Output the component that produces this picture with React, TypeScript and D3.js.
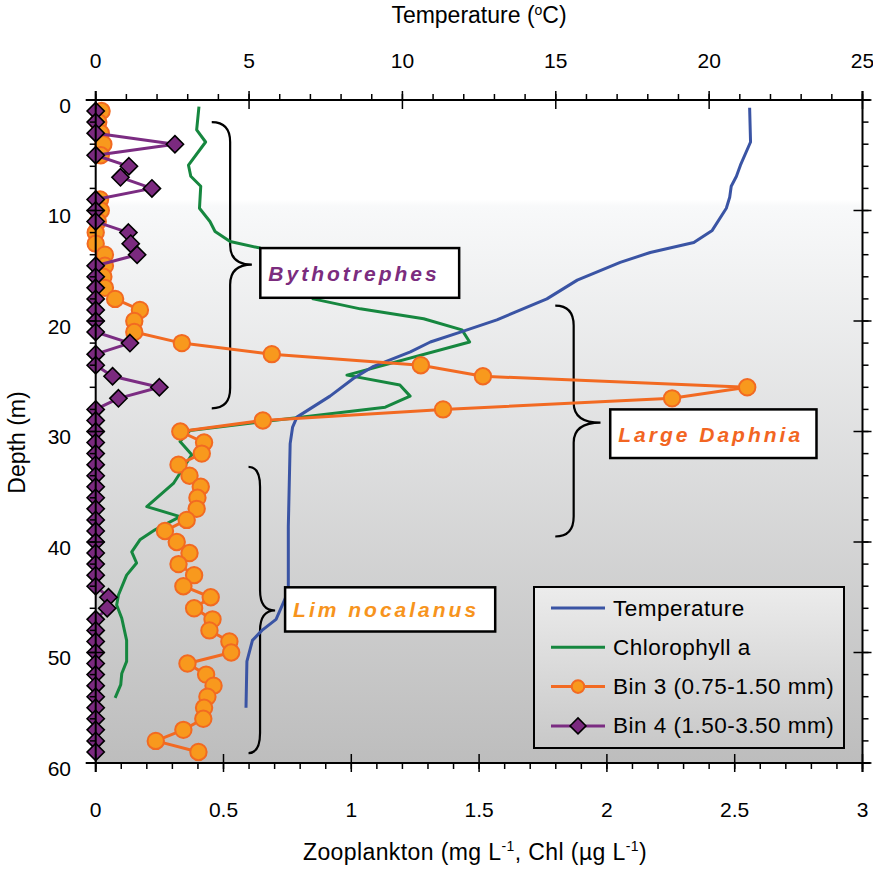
import React from 'react';
import * as d3 from 'd3';

const W = 873;
const H = 871;
const PL = 95.7, PR = 862.5, PT = 100, PB = 763;

// depths (m) of zooplankton samples
const depth = [1,2,3,4,5,6,7,8,9,10,11,12,13,14,15,16,17,18,19,20,21,22,23,24,25,26,27,28,29,30,31,32,33,34,35,36,37,38,39,40,41,42,43,44,45,46,47,48,49,50,51,52,53,54,55,56,57,58,59];
// Bin 3 (0.75-1.50 mm), mg/L
const bin3: (number | null)[] = [0.023,0.01,0.02,0.03,0.02,null,null,null,0.017,0.02,0.008,0.0,0.0,0.036,0.036,0.03,0.036,0.076,0.173,0.151,0.151,0.337,0.689,1.272,1.515,2.549,2.255,1.359,0.654,0.331,0.424,0.415,0.324,0.367,0.411,0.398,0.395,0.356,0.271,0.317,0.367,0.324,0.385,0.343,0.45,0.385,0.457,0.445,0.523,0.53,0.359,0.432,0.461,0.437,0.424,0.421,0.343,0.235,0.402];
// Bin 4 (1.50-3.50 mm), mg/L
const bin4 = [0,0,0,0.31,0,0.13,0.097,0.22,0,0,0,0.128,0.137,0.162,0,0,0,0,0,0,0,0.134,0,0,0.066,0.249,0.089,0,0,0,0,0,0,0,0,0,0,0,0,0,0,0,0,0,0.05,0.045,0,0,0,0,0,0,0,0,0,0,0,0,0];

// Temperature profile (top axis, deg C)
const tempDepth = [0.7,3.8,5.9,6.9,7.8,8.8,9.8,11.8,12.9,13.8,14.7,16.3,18.0,19.9,21.0,21.9,22.8,24.1,25.2,26.8,28.7,29.6,31.1,38.6,44.0,45.1,47.0,48.0,48.9,50.8,55.0];
const tempC = [21.32,21.35,21.02,20.89,20.72,20.67,20.56,20.1,19.5,18.08,17.1,15.7,14.71,13.08,11.89,10.91,10.26,9.06,8.4,7.64,6.56,6.42,6.34,6.28,6.28,6.18,5.88,5.42,5.11,4.93,4.9];

// Chlorophyll a (bottom axis, ug/L)
const chlDepth = [0.6,2.7,3.8,5.9,6.9,7.8,9.8,11.0,11.9,12.8,13.4,18.0,18.9,19.8,20.8,21.9,24.9,25.8,26.8,27.8,29.9,30.9,32.1,34.7,36.8,37.7,38.9,39.8,40.9,41.9,43.0,44.8,45.7,46.9,48.9,50.8,51.9,52.9,54.1];
const chlVal = [0.404,0.395,0.43,0.363,0.372,0.411,0.406,0.447,0.467,0.526,0.643,0.851,1.035,1.283,1.433,1.463,0.983,1.19,1.23,1.133,0.369,0.33,0.376,0.304,0.2,0.33,0.232,0.173,0.141,0.16,0.121,0.089,0.082,0.102,0.121,0.121,0.102,0.098,0.076];

const zooTicks = [0, 0.5, 1, 1.5, 2, 2.5, 3];
const zooTickLabels = ['0', '0.5', '1', '1.5', '2', '2.5', '3'];
const tempTicks = [0, 5, 10, 15, 20, 25];
const depthTicks = [0, 10, 20, 30, 40, 50, 60];

// annotations: depth range, brace x (zooplankton units), label box
const braces = [
  { d0: 2.0, d1: 27.9, dc: 14.9, tip: 0.454, stem: 0.526, point: 0.611 },
  { d0: 18.6, d1: 39.5, dc: 29.2, tip: 1.798, stem: 1.870, point: 1.975 },
  { d0: 33.2, d1: 59.1, dc: 46.2, tip: 0.598, stem: 0.643, point: 0.702 },
];
const labels = [
  { text: 'Bythotrephes', color: '#7b2c7e', x0: 0.644, x1: 1.422, d0: 13.4, d1: 17.9 },
  { text: 'Large Daphnia', color: '#f26522', x0: 2.013, x1: 2.82, d0: 28.0, d1: 32.4 },
  { text: 'Lim nocalanus', color: '#f7941d', x0: 0.741, x1: 1.563, d0: 44.1, d1: 48.1 },
];

const legendItems = ['Temperature', 'Chlorophyll a', 'Bin 3 (0.75-1.50 mm)', 'Bin 4 (1.50-3.50 mm)'];

const FONT = 'Liberation Sans, Arial, Helvetica, sans-serif';
const BLUE = '#3a54a4';
const GREEN = '#16873f';
const ORANGE = '#f26a22';
const ORANGE_FILL = '#f8991d';
const PURPLE = '#7b2c82';

const diamond = (s: number) => `M0,${-s}L${s},0L0,${s}L${-s},0Z`;

export default function App() {
  const x = d3.scaleLinear().domain([0, 3]).range([PL, PR]);
  const xt = d3.scaleLinear().domain([0, 25]).range([PL, PR]);
  const y = d3.scaleLinear().domain([0, 60]).range([PT, PB]);

  const tempLine = d3.line<number>().x((_, i) => xt(tempC[i])).y((d) => y(d))(tempDepth) || '';
  const chlLine = d3.line<number>().x((_, i) => x(chlVal[i])).y((d) => y(d))(chlDepth) || '';
  const b3Line = d3
    .line<number>()
    .defined((_, i) => bin3[i] !== null)
    .x((_, i) => x(bin3[i] as number))
    .y((d) => y(d))(depth) || '';
  const b4Line = d3.line<number>().x((_, i) => x(bin4[i])).y((d) => y(d))(depth) || '';

  const bracePath = (b: typeof braces[0]) => {
    const tx = x(b.tip), sx = x(b.stem), px = x(b.point);
    const y0 = y(b.d0), y1 = y(b.d1), yc = y(b.dc);
    const r = 20;
    return `M${tx},${y0} Q${sx},${y0} ${sx},${y0 + r} L${sx},${yc - r} Q${sx},${yc} ${px},${yc} Q${sx},${yc} ${sx},${yc + r} L${sx},${y1 - r} Q${sx},${y1} ${tx},${y1}`;
  };

  const minorZoo = d3.range(0, 3.0001, 0.1);
  const minorTemp = d3.range(0, 25.0001, 1);
  const minorDepth = d3.range(0, 60.0001, 2);

  const legX = 534, legY = 587, legW = 310, legH = 161;
  const legRowY = (i: number) => 608 + i * 39.3;

  return (
    <svg width={W} height={H} style={{ position: 'absolute', left: 0, top: 0, display: 'block' }} fontFamily={FONT}>
      <defs>
        <linearGradient id="bg" x1="0" y1="0" x2="0" y2="1">
          <stop offset="0" stopColor="#ffffff" />
          <stop offset="0.15" stopColor="#ffffff" />
          <stop offset="0.16" stopColor="#f8f9fa" />
          <stop offset="1" stopColor="#bdbdbd" />
        </linearGradient>
        <linearGradient id="lg" x1="0" y1="0" x2="0" y2="1">
          <stop offset="0" stopColor="#ececec" />
          <stop offset="1" stopColor="#c8c8c8" />
        </linearGradient>
      </defs>
      <rect x={0} y={0} width={W} height={H} fill="#ffffff" />
      <rect x={PL} y={PT} width={PR - PL} height={PB - PT} fill="url(#bg)" />

      {/* braces */}
      {braces.map((b, i) => (
        <path key={i} d={bracePath(b)} fill="none" stroke="#000" strokeWidth={2.2} />
      ))}

      {/* series */}
      <path d={chlLine} fill="none" stroke={GREEN} strokeWidth={3} strokeLinejoin="round" />
      <path d={tempLine} fill="none" stroke={BLUE} strokeWidth={3} strokeLinejoin="round" />
      <path d={b3Line} fill="none" stroke={ORANGE} strokeWidth={3} strokeLinejoin="round" />
      {depth.map((d, i) =>
        bin3[i] === null ? null : (
          <circle key={'c' + i} cx={x(bin3[i] as number)} cy={y(d)} r={8.2} fill={ORANGE_FILL} stroke={ORANGE} strokeWidth={2} />
        )
      )}
      <path d={b4Line} fill="none" stroke={PURPLE} strokeWidth={3} strokeLinejoin="round" />
      {depth.map((d, i) => (
        <path key={'d' + i} d={diamond(8.6)} transform={`translate(${x(bin4[i])},${y(d)})`} fill="#7b2a7f" stroke="#000" strokeWidth={1.6} />
      ))}

      {/* label boxes */}
      {labels.map((l, i) => (
        <g key={i}>
          <rect x={x(l.x0)} y={y(l.d0)} width={x(l.x1) - x(l.x0)} height={y(l.d1) - y(l.d0)} fill="#fff" stroke="#000" strokeWidth={2.5} />
          <text x={x(l.x0) + 8} y={(y(l.d0) + y(l.d1)) / 2 + 8} fill={l.color} fontSize={21} fontWeight="bold" fontStyle="italic" letterSpacing={3}>
            {l.text}
          </text>
        </g>
      ))}

      {/* axes lines */}
      <g stroke="#000" strokeWidth={2}>
        <line x1={PL - 10} x2={PR + 8} y1={PT} y2={PT} />
        <line x1={PL - 10} x2={PR + 8} y1={PB} y2={PB} />
        <line x1={PL} x2={PL} y1={PT - 9} y2={PB + 9} />
        <line x1={PR} x2={PR} y1={PT - 9} y2={PB + 9} />
      </g>
      <g stroke="#000" strokeWidth={1.5}>
        {minorTemp.map((t) => (
          <line key={'mt' + t} x1={xt(t)} x2={xt(t)} y1={PT - 6} y2={PT} />
        ))}
        {tempTicks.map((t) => (
          <line key={'Mt' + t} x1={xt(t)} x2={xt(t)} y1={PT - 9} y2={PT + 9} />
        ))}
        {minorZoo.map((t) => (
          <line key={'mz' + t} x1={x(t)} x2={x(t)} y1={PB} y2={PB + 6} />
        ))}
        {zooTicks.map((t) => (
          <line key={'Mz' + t} x1={x(t)} x2={x(t)} y1={PB - 9} y2={PB + 9} />
        ))}
        {minorDepth.map((t) => (
          <g key={'md' + t}>
            <line x1={PL - 6} x2={PL} y1={y(t)} y2={y(t)} />
            <line x1={PR} x2={PR + 6} y1={y(t)} y2={y(t)} />
          </g>
        ))}
        {depthTicks.map((t) => (
          <g key={'Md' + t}>
            <line x1={PL - 9} x2={PL + 9} y1={y(t)} y2={y(t)} />
            <line x1={PR - 9} x2={PR + 9} y1={y(t)} y2={y(t)} />
          </g>
        ))}
      </g>

      {/* tick labels */}
      <g fontSize={21} fill="#000">
        {tempTicks.map((t) => (
          <text key={'lt' + t} x={xt(t)} y={68} textAnchor="middle">{t}</text>
        ))}
        {zooTicks.map((t, i) => (
          <text key={'lz' + t} x={x(t)} y={817} textAnchor="middle">{zooTickLabels[i]}</text>
        ))}
        {depthTicks.map((t) => (
          <text key={'ld' + t} x={71} y={y(t) + 12.5} textAnchor="end">{t}</text>
        ))}
      </g>

      {/* axis titles */}
      <text x={479} y={23} textAnchor="middle" fontSize={23}>
        Temperature (<tspan fontSize={14} dy={-8}>o</tspan><tspan dy={8}>C)</tspan>
      </text>
      <text x={475} y={860} textAnchor="middle" fontSize={23} letterSpacing={0.4}>
        Zooplankton (mg L<tspan fontSize={14} dy={-9}>-1</tspan><tspan dy={9}>, Chl (µg L</tspan><tspan fontSize={14} dy={-9}>-1</tspan><tspan dy={9}>)</tspan>
      </text>
      <text transform={`translate(25,${(PT + PB) / 2 + 11}) rotate(-90)`} textAnchor="middle" fontSize={23}>
        Depth (m)
      </text>

      {/* legend */}
      <rect x={legX} y={legY} width={legW} height={legH} fill="url(#lg)" stroke="#000" strokeWidth={2} />
      {legendItems.map((t, i) => {
        const ly = legRowY(i);
        const colors = [BLUE, GREEN, ORANGE, PURPLE];
        return (
          <g key={t}>
            <line x1={551} x2={605} y1={ly} y2={ly} stroke={colors[i]} strokeWidth={3} />
            {i === 2 && <circle cx={578} cy={ly} r={6.3} fill={ORANGE_FILL} stroke={ORANGE} strokeWidth={2} />}
            {i === 3 && <path d={diamond(8)} transform={`translate(578,${ly})`} fill="#7b2a7f" stroke="#000" strokeWidth={1.5} />}
            <text x={613} y={ly + 7.5} fontSize={22.5} letterSpacing={0.5}>{t}</text>
          </g>
        );
      })}
    </svg>
  );
}
